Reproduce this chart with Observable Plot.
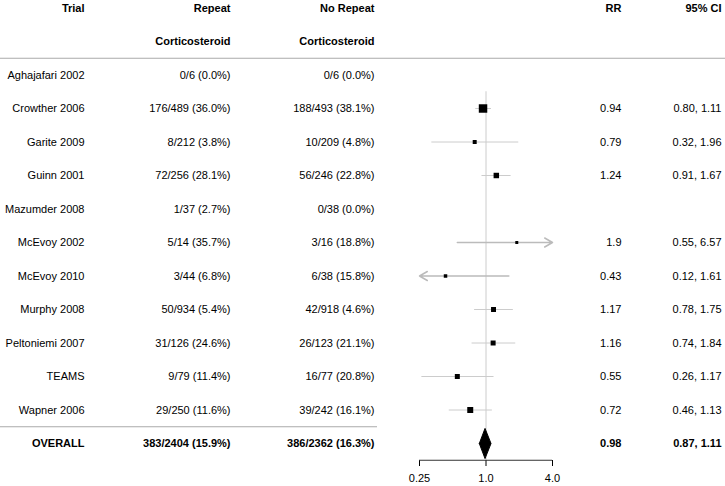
<!DOCTYPE html>
<html>
<head>
<meta charset="utf-8">
<script src="https://cdn.jsdelivr.net/npm/d3@7"></script>
<script src="https://cdn.jsdelivr.net/npm/@observablehq/plot@0.6"></script>
<style>
  html, body { margin: 0; padding: 0; background: #fff; }
</style>
</head>
<body>
<div id="chart"></div>
<script>
// ---- data ----
const trials = ["Aghajafari 2002", "Crowther 2006", "Garite 2009", "Guinn 2001", "Mazumder 2008",
  "McEvoy 2002", "McEvoy 2010", "Murphy 2008", "Peltoniemi 2007", "TEAMS", "Wapner 2006"];
const repeatText = ["0/6 (0.0%)", "176/489 (36.0%)", "8/212 (3.8%)", "72/256 (28.1%)", "1/37 (2.7%)",
  "5/14 (35.7%)", "3/44 (6.8%)", "50/934 (5.4%)", "31/126 (24.6%)", "9/79 (11.4%)", "29/250 (11.6%)"];
const noRepeatText = ["0/6 (0.0%)", "188/493 (38.1%)", "10/209 (4.8%)", "56/246 (22.8%)", "0/38 (0.0%)",
  "3/16 (18.8%)", "6/38 (15.8%)", "42/918 (4.6%)", "26/123 (21.1%)", "16/77 (20.8%)", "39/242 (16.1%)"];
const rr = [null, 0.94, 0.79, 1.24, null, 1.9, 0.43, 1.17, 1.16, 0.55, 0.72];
const ciLow = [null, 0.80, 0.32, 0.91, null, 0.55, 0.12, 0.78, 0.74, 0.26, 0.46];
const ciHigh = [null, 1.11, 1.96, 1.67, null, 6.57, 1.61, 1.75, 1.84, 1.17, 1.13];
const weights = [0, 28.8, 6.4, 12.0, 0, 3.6, 4.9, 10.0, 10.0, 10.0, 14.4]; // estimated study weights (%)

const overallLabel = "OVERALL";
const overallRepeat = "383/2404 (15.9%)";
const overallNoRepeat = "386/2362 (16.3%)";
const overallRR = 0.98, overallLow = 0.87, overallHigh = 1.11;

const headers1 = ["Trial", "Repeat", "No Repeat", "RR", "95% CI"];
const headers2 = ["", "Corticosteroid", "Corticosteroid", "", ""];
const xTicks = [0.25, 1, 4];
const xTickLabels = ["0.25", "1.0", "4.0"];
const xDomain = [0.25, 4];

// ---- build table ----
const rows = trials.map((t, i) => ({
  trial: t, row: i, repeat: repeatText[i], noRepeat: noRepeatText[i],
  rr: rr[i], lo: ciLow[i], hi: ciHigh[i], w: weights[i],
  rrText: rr[i] == null ? "" : String(rr[i]),
  ciText: rr[i] == null ? "" : `${ciLow[i].toFixed(2)}, ${ciHigh[i].toFixed(2)}`
}));
const overallRow = trials.length;
const est = rows.filter(d => d.rr != null);
const within = est.filter(d => d.lo >= xDomain[0] && d.hi <= xDomain[1]);
const clipped = est.filter(d => d.lo < xDomain[0] || d.hi > xDomain[1]).map(d => {
  // arrow drawn from the in-range end toward the clipped end
  if (d.hi > xDomain[1]) return {row: d.row, x1: d.lo, x2: xDomain[1]};
  return {row: d.row, x1: d.hi, x2: xDomain[0]};
});
const diamondH = 0.45;
const diamond = [
  {x: overallLow, y: overallRow}, {x: overallRR, y: overallRow - diamondH},
  {x: overallHigh, y: overallRow}, {x: overallRR, y: overallRow + diamondH},
  {x: overallLow, y: overallRow}
];

// column anchors (px from left)
const cols = [84, 230, 374, 621, 721];
const FS = 11;
const textCol = (data, field, ci, opts = {}) =>
  Plot.text(data, {y: "row", text: field, frameAnchor: "left", dx: cols[ci], textAnchor: "end",
    fontSize: FS, fill: "#000", ...opts});

const headerData2 = headers2.map((h, i) => ({h, i, row: -1})).filter(d => d.h);
const overallData = [{row: overallRow, trial: overallLabel, repeat: overallRepeat, noRepeat: overallNoRepeat,
  rrText: String(overallRR), ciText: `${overallLow.toFixed(2)}, ${overallHigh.toFixed(2)}`}];

const chart = Plot.plot({
  width: 725, height: 486,
  marginTop: 0, marginLeft: 0, marginRight: 0, marginBottom: 26,
  style: {fontFamily: "'Liberation Sans', Arial, sans-serif", fontSize: "11px", color: "#000", background: "#fff"},
  x: {type: "log", base: 2, domain: xDomain, range: [419, 552], ticks: xTicks,
      tickFormat: d => xTickLabels[xTicks.indexOf(d)], tickSize: 6, tickPadding: 8, label: null},
  y: {domain: [0, 11], range: [74.5, 443], axis: null},
  r: {type: "sqrt", domain: [0, 100], range: [0, 8.9]},
  marks: [
    // separators
    Plot.ruleY([-0.5], {stroke: "#aaa", strokeWidth: 1}),
    Plot.ruleY([10.5], {stroke: "#aaa", strokeWidth: 1, insetRight: 725 - 377}),
    // reference line at RR = 1
    Plot.ruleX([1], {y1: 0.5, y2: 11.5, stroke: "#ccc"}),
    // confidence intervals
    Plot.link(within, {x1: "lo", x2: "hi", y1: "row", y2: "row", stroke: "#ccc"}),
    Plot.arrow(clipped, {x1: "x1", x2: "x2", y1: "row", y2: "row", stroke: "#bbb", headLength: 9, headAngle: 60}),
    // point estimates
    Plot.dot(est, {x: "rr", y: "row", r: "w", symbol: "square", fill: "#000"}),
    // overall diamond
    Plot.line(diamond, {x: "x", y: "y", fill: "#000", stroke: "#000", strokeWidth: 1}),
    // axis line
    Plot.ruleY([11.5], {x1: xDomain[0], x2: xDomain[1], stroke: "#333"}),
    // table text
    textCol(rows, "trial", 0),
    textCol(rows, "repeat", 1),
    textCol(rows, "noRepeat", 2),
    textCol(rows, "rrText", 3),
    textCol(rows, "ciText", 4),
    textCol(overallData, "trial", 0, {fontWeight: "bold"}),
    textCol(overallData, "repeat", 1, {fontWeight: "bold"}),
    textCol(overallData, "noRepeat", 2, {fontWeight: "bold"}),
    textCol(overallData, "rrText", 3, {fontWeight: "bold"}),
    textCol(overallData, "ciText", 4, {fontWeight: "bold"}),
    ...headers1.map((h, i) => textCol([{row: -2, h}], "h", i, {fontWeight: "bold"})),
    ...headerData2.map(d => textCol([d], "h", d.i, {fontWeight: "bold"}))
  ]
});
document.getElementById("chart").appendChild(chart);
</script>
</body>
</html>
